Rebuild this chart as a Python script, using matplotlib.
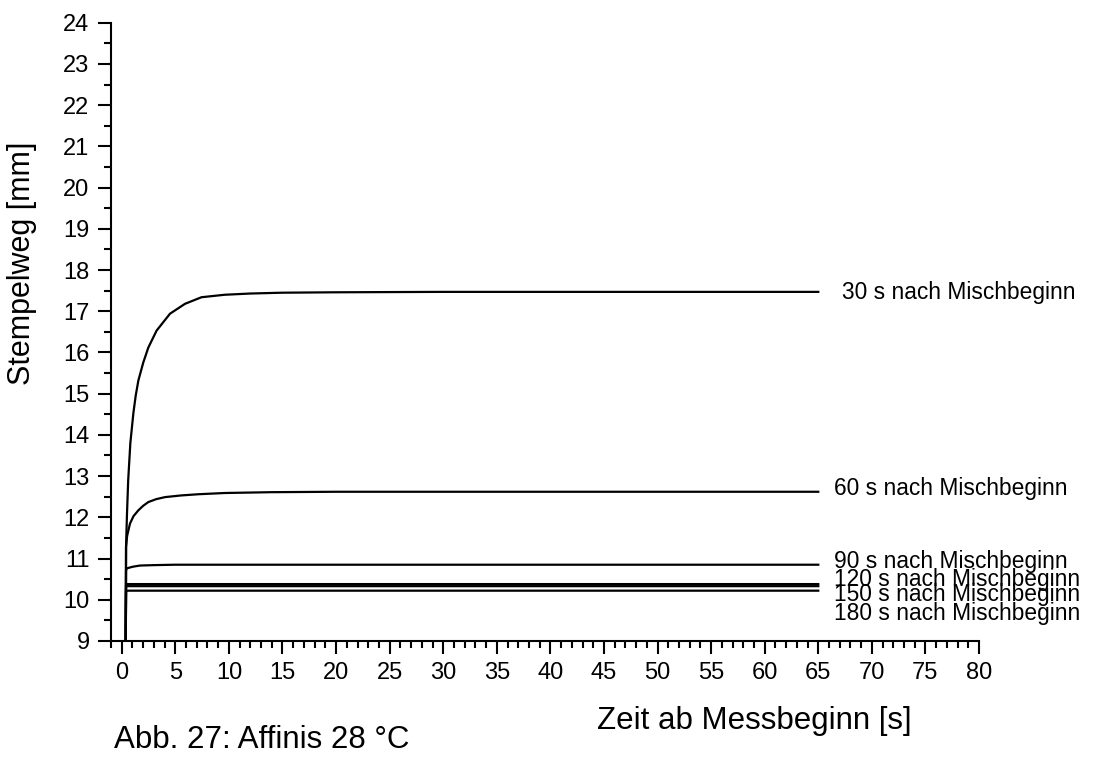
import matplotlib
matplotlib.use("Agg")
import matplotlib.pyplot as plt
from matplotlib.ticker import MultipleLocator

plt.rcParams['font.family'] = ['Liberation Sans', 'DejaVu Sans']

# Stempelweg over time for samples taken at different times after mixing start
t_30 = [0.37, 0.4, 0.45, 0.49, 0.6, 0.8, 1.08, 1.3, 1.55, 2.0, 2.48, 3.25, 4.5, 5.9, 7.44, 9.6, 12, 15, 20, 30, 40, 50, 65]
v_30 = [8.8, 11.28, 11.75, 12.1, 12.9, 13.8, 14.52, 14.95, 15.32, 15.75, 16.12, 16.53, 16.94, 17.18, 17.34, 17.40, 17.43, 17.45, 17.46, 17.47, 17.47, 17.47, 17.47]

t_60 = [0.37, 0.4, 0.5, 0.77, 1.1, 1.55, 2.0, 2.48, 3.2, 4.03, 5.5, 7.15, 9.6, 14, 20, 30, 40, 50, 65]
v_60 = [8.8, 11.28, 11.55, 11.85, 12.03, 12.17, 12.28, 12.37, 12.44, 12.49, 12.53, 12.56, 12.59, 12.61, 12.62, 12.62, 12.62, 12.62, 12.62]

t_90 = [0.37, 0.4, 0.45, 1.0, 1.7, 3, 5, 10, 20, 30, 40, 50, 65]
v_90 = [8.8, 10.7, 10.76, 10.8, 10.83, 10.84, 10.85, 10.85, 10.85, 10.85, 10.85, 10.85, 10.85]

t_120 = [0.37, 0.4, 0.5, 1.0, 5, 20, 40, 65]
v_120 = [8.8, 10.36, 10.38, 10.38, 10.38, 10.38, 10.38, 10.38]

t_150 = [0.37, 0.4, 0.5, 1.0, 5, 20, 40, 65]
v_150 = [8.8, 10.31, 10.33, 10.33, 10.33, 10.33, 10.33, 10.33]

t_180 = [0.37, 0.4, 0.5, 1.0, 5, 20, 40, 65]
v_180 = [8.8, 10.2, 10.22, 10.22, 10.22, 10.22, 10.22, 10.22]

series = [(t_30, v_30), (t_60, v_60), (t_90, v_90),
          (t_120, v_120), (t_150, v_150), (t_180, v_180)]

labels = ["30 s nach Mischbeginn", "60 s nach Mischbeginn", "90 s nach Mischbeginn",
          "120 s nach Mischbeginn", "150 s nach Mischbeginn", "180 s nach Mischbeginn"]
label_x = [67.2, 66.5, 66.5, 66.5, 66.5, 66.5]
label_y = [17.52, 12.75, 10.99, 10.56, 10.19, 9.73]

fig = plt.figure(figsize=(10.93, 7.58), dpi=100)
ax = fig.add_axes([0.1016, 0.1544, 0.7941, 0.8156])

for t, v in series:
    ax.plot(t, v, color='black', linewidth=1.6, solid_joinstyle='round')

for lab, lx, ly in zip(labels, label_x, label_y):
    ax.text(lx, ly, lab, fontsize=16.4, va='center_baseline', ha='left', color='black')

ax.set_xlim(-1, 80)
ax.set_ylim(9, 24)
ax.xaxis.set_major_locator(MultipleLocator(5))
ax.xaxis.set_minor_locator(MultipleLocator(1))
ax.yaxis.set_major_locator(MultipleLocator(1))
ax.yaxis.set_minor_locator(MultipleLocator(0.5))

for side in ['top', 'right']:
    ax.spines[side].set_visible(False)
for side in ['left', 'bottom']:
    ax.spines[side].set_linewidth(1.5)

ax.tick_params(which='major', direction='out', length=9.5, width=1.5, labelsize=17, pad=6)
ax.tick_params(which='minor', direction='out', length=5, width=1.5)

fig.text(0.0201, 0.652, "Stempelweg [mm]", rotation=90, fontsize=22, ha='center', va='center')
fig.text(0.5462, 0.054, "Zeit ab Messbeginn [s]", fontsize=22.5, ha='left', va='center_baseline')
fig.text(0.1043, 0.0284, "Abb. 27: Affinis 28 °C", fontsize=22.5, ha='left', va='center_baseline')

fig.savefig("out.png", dpi=100)
